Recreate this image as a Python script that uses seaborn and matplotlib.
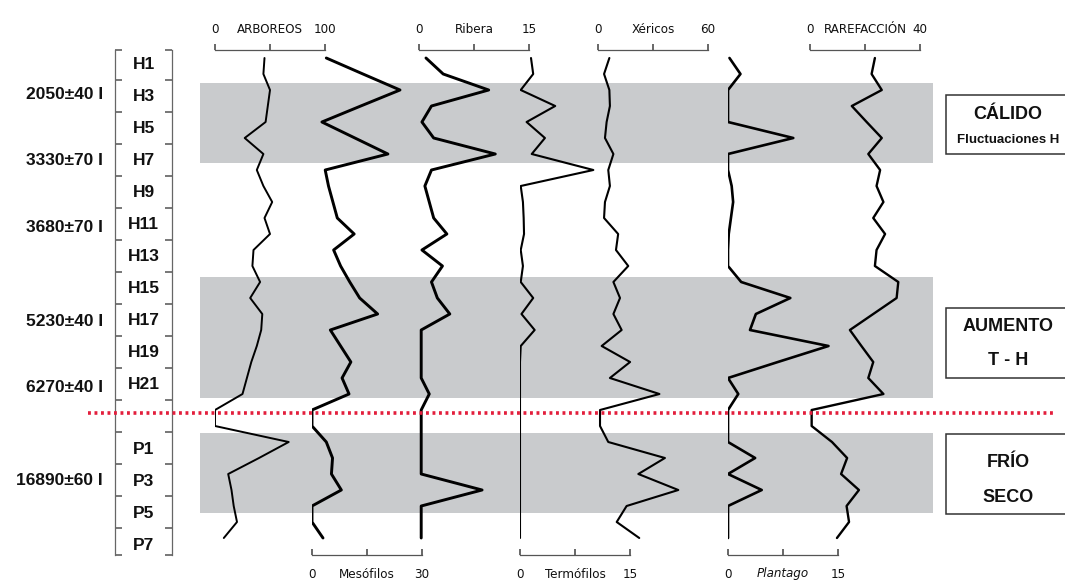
import numpy as np
import matplotlib.pyplot as plt
import seaborn as sns
from matplotlib.patches import Rectangle

# ---- values (one value per sample level, top -> bottom) ----
sample_idx = list(range(31))

arboreos = [45, 44, 50, 48, 46, 27, 44, 38, 44, 52, 45, 50, 35, 34, 41, 32,
            43, 42, 38, 33, 29, 25, 0, 0, 67, 40, 12, 15, 17, 20, 8]
mesofilos = [3.9, 13.9, 24, 13.3, 2.7, 11.7, 20.7, 3.6, 4.5, 5.7, 6.9, 11.5, 5.9, 7.8,
             10.3, 13, 17.9, 5, 7.8, 10.6, 8.2, 10.1, 0, 0, 3.9, 5.6, 5.3, 8, 0, 0, 3]
ribera = [0.95, 3.3, 9.5, 1.7, 0.4, 2, 10.4, 1.7, 0.8, 1.4, 2, 3.8, 0.4, 3.2, 1.7, 2.5,
          4.2, 0.3, 0.3, 0.3, 0.3, 1.4, 0.3, 0.3, 0.3, 0.3, 0.3, 8.6, 0.3, 0.3, 0.3]
termofilos = [1.5, 1.8, 0.1, 4.8, 0.9, 3.4, 1.6, 10, 0.1, 0.4, 0.5, 0.55, 0.1, 0.4, 0.1,
              1.8, 0.2, 2, 0.1, 0, 0, 0, 0, 0, 0, 0, 0, 0, 0, 0, 0]
xericos = [6.2, 3.3, 6.2, 6.5, 4.7, 3.8, 8.4, 5.6, 6.5, 3.8, 3.3, 11, 9.8, 16.5, 8.4, 12,
           8.4, 12.9, 2, 17.5, 6.5, 33.5, 1.1, 1.1, 5.6, 36.5, 22, 43.8, 15.6, 10.2, 22.5]
plantago = [0.2, 1.7, 0, 0, 0, 8.9, 0, 0, 0.5, 0.7, 0.4, 0.1, 0, 0, 1.8, 8.5, 3.8, 3,
            13.7, 6.8, 0, 1.4, 0, 0, 0, 3.7, 0, 4.6, 0, 0, 0]
rarefaccion = [23.6, 22.4, 26.1, 15.2, 20.6, 26.1, 21.2, 25.5, 24.2, 26.7, 23, 27.3, 24.2,
               23.6, 32.1, 31.5, 23, 14.5, 18.7, 23, 21.2, 26.7, 0.6, 0.6, 8, 13.5, 11.3,
               17.8, 13.3, 14.2, 9.8]

sample_labels = ['H1', 'H3', 'H5', 'H7', 'H9', 'H11', 'H13', 'H15', 'H17', 'H19', 'H21',
                 'P1', 'P3', 'P5', 'P7']
sample_label_pos = [0.4, 2.4, 4.4, 6.4, 8.4, 10.4, 12.4, 14.4, 16.4, 18.4, 20.4,
                    24.5, 26.5, 28.5, 30.5]
dates = ['2050±40 I', '3330±70 I', '3680±70 I', '5230±40 I', '6270±40 I', '16890±60 I']
date_pos = [2.3, 6.4, 10.6, 16.5, 20.6, 26.4]

bands = [(1.55, 6.55), (13.7, 21.25), (23.45, 28.45)]
boundary = 22.2

zones = [(2.3, 6.0, ['CÁLIDO', 'Fluctuaciones H'], [3.55, 5.1], [13, 9.5]),
         (15.6, 20.0, ['AUMENTO', 'T - H'], [16.8, 18.9], [13, 13]),
         (23.5, 28.5, ['FRÍO', 'SECO'], [25.3, 27.5], [13, 13])]

# name, values, axis max, axis left (px), axis side, line width
panels = [
    ('ARBOREOS', arboreos, 100, 215, 'top', 1.4),
    ('Mesófilos', mesofilos, 30, 312, 'bottom', 2.1),
    ('Ribera', ribera, 15, 419, 'top', 2.1),
    ('Termófilos', termofilos, 15, 520, 'bottom', 1.5),
    ('Xéricos', xericos, 60, 598, 'top', 1.5),
    ('Plantago', plantago, 15, 728, 'bottom', 1.9),
    ('RAREFACCIÓN', rarefaccion, 40, 810, 'top', 1.7),
]

sns.set_theme(style='white')
plt.rcParams['font.family'] = ['Liberation Sans', 'DejaVu Sans']

W, H = 1065, 583
top_px, bot_px = 50, 555
ylim = (31.0625, -0.5)


def rect(x0, w):
    return [x0 / W, (H - bot_px) / H, w / W, (bot_px - top_px) / H]


fig = plt.figure(figsize=(W / 100, H / 100), dpi=100)

# background: shaded zones, dates, interpretation boxes
bg = fig.add_axes(rect(0, W))
bg.set_xlim(0, 1)
bg.set_ylim(*ylim)
bg.axis('off')
for a, b in bands:
    bg.axhspan(a, b, xmin=200 / W, xmax=933 / W, color='#c9cbcd', lw=0, zorder=0)
ytr = bg.get_yaxis_transform()
for txt, pos in zip(dates, date_pos):
    bg.text(103 / W, pos, txt, transform=ytr, ha='right', va='center',
            fontsize=12.5, fontweight='bold', color='#111')
for y0, y1, texts, tpos, sizes in zones:
    bg.add_patch(Rectangle((946 / W, y0), 0.2, y1 - y0, transform=ytr,
                           facecolor='white', edgecolor='#333', lw=1.1, zorder=3))
    for t, p, s in zip(texts, tpos, sizes):
        bg.text(1008 / W, p, t, transform=ytr, ha='center', va='center',
                fontsize=s, fontweight='bold', color='#111', zorder=4)

# depth scale with sample names
sc = fig.add_axes(rect(115, 57), facecolor='none')
sc.set_ylim(*ylim)
sc.set_xlim(0, 1)
sc.set_xticks([])
for side in ['top', 'bottom']:
    sc.spines[side].set_visible(False)
for side in ['left', 'right']:
    sc.spines[side].set_visible(True)
    sc.spines[side].set_color('#666')
    sc.spines[side].set_linewidth(0.9)
sc.set_yticks(list(np.arange(1.4, 31, 2)) + [ylim[0], ylim[1]])
sc.tick_params(axis='y', left=True, right=True, direction='in', length=5,
               color='#666', labelleft=False)
for lab, pos in zip(sample_labels, sample_label_pos):
    sc.text(0.5, pos, lab, transform=sc.get_yaxis_transform(), ha='center',
            va='center', fontsize=12.5, fontweight='bold', color='#111')

# one narrow axis per curve
for name, vals, vmax, x0, side, lw in panels:
    ax = fig.add_axes(rect(x0, 110), facecolor='none')
    sns.lineplot(x=vals, y=sample_idx, sort=False, estimator=None,
                 color='black', lw=lw, ax=ax)
    ax.set_xlim(0, vmax)
    ax.set_ylim(*ylim)
    ax.set_yticks([])
    ax.set_xlabel('')
    ax.set_ylabel('')
    for s in ax.spines.values():
        s.set_visible(False)
    ax.spines[side].set_visible(True)
    ax.spines[side].set_color('#555')
    ax.spines[side].set_linewidth(0.9)
    ax.set_xticks([0, vmax / 2, vmax])
    ax.set_xticklabels(['0', name, str(vmax)], fontfamily='DejaVu Sans',
                       fontstretch='condensed', fontsize=9.5, color='#111')
    if side == 'top':
        ax.xaxis.tick_top()
        ax.tick_params(axis='x', top=True, bottom=False, direction='out',
                       length=4, color='#555', pad=6)
    else:
        ax.tick_params(axis='x', bottom=True, direction='in', length=4,
                       color='#555', pad=9)
    if name == 'Plantago':
        ax.get_xticklabels()[1].set_style('italic')

# boundary between Holocene and Pleistocene
ov = fig.add_axes(rect(0, W), facecolor='none')
ov.set_xlim(0, 1)
ov.set_ylim(*ylim)
ov.axis('off')
ov.axhline(boundary, xmin=88 / W, xmax=1053 / W, color='#e31e3c', lw=2.6,
           ls=(0, (0.8, 1.0)))

fig.savefig('out.png', dpi=100)
